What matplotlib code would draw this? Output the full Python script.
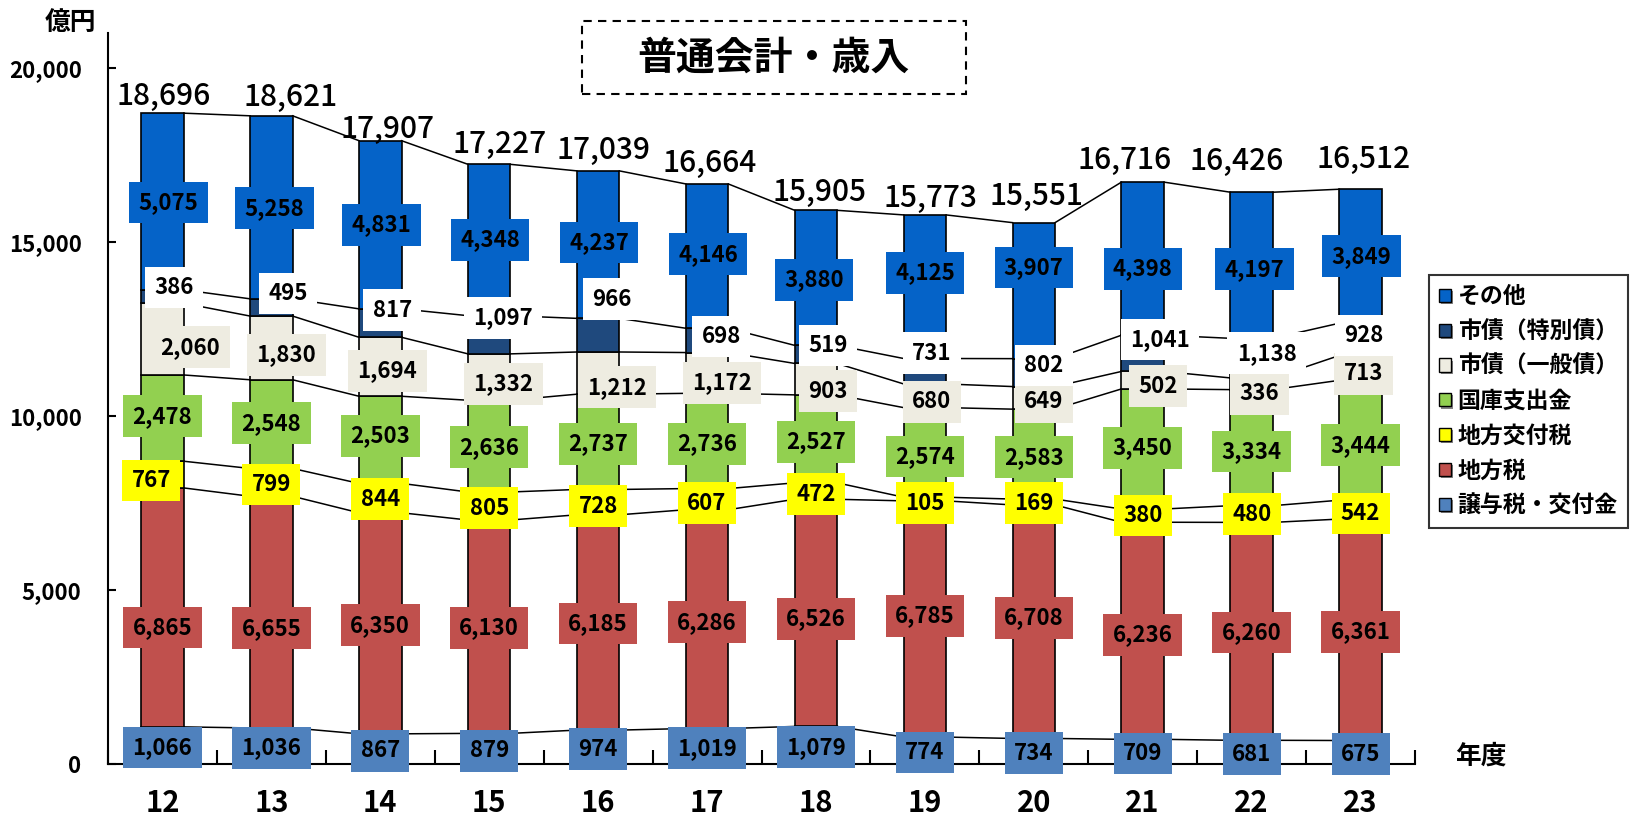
import matplotlib
matplotlib.use("Agg")
import matplotlib.pyplot as plt
import numpy as np
from matplotlib.patches import Patch, Rectangle
from matplotlib import patheffects as pe

# ---- data (億円) ----
years = ["12", "13", "14", "15", "16", "17", "18", "19", "20", "21", "22", "23"]
series_names = ["譲与税・交付金", "地方税", "地方交付税", "国庫支出金",
                "市債（一般債）", "市債（特別債）", "その他"]
jouyo = [1066, 1036, 867, 879, 974, 1019, 1079, 774, 734, 709, 681, 675]
chihozei = [6865, 6655, 6350, 6130, 6185, 6286, 6526, 6785, 6708, 6236, 6260, 6361]
kofuzei = [767, 799, 844, 805, 728, 607, 472, 105, 169, 380, 480, 542]
kokko = [2478, 2548, 2503, 2636, 2737, 2736, 2527, 2574, 2583, 3450, 3334, 3444]
ippan = [2060, 1830, 1694, 1332, 1212, 1172, 903, 680, 649, 502, 336, 713]
tokubetsu = [386, 495, 817, 1097, 966, 698, 519, 731, 802, 1041, 1138, 928]
sonota = [5075, 5258, 4831, 4348, 4237, 4146, 3880, 4125, 3907, 4398, 4197, 3849]
totals = [18696, 18621, 17907, 17227, 17039, 16664, 15905, 15773, 15551, 16716, 16426, 16512]

yticks = [0, 5000, 10000, 15000, 20000]

# ---- styling ----
colors = ["#4F81BD", "#C0504D", "#FFFF00", "#92D050", "#EEECE1", "#1F497D", "#0563C8"]
label_bg = ["#4F81BD", "#C0504D", "#FFFF00", "#92D050", "#EEECE1", "#FFFFFF", "#0563C8"]

# label nudges in pixels (dx right, dy down), one row per series
nudge_dx = [
    [0] * 12,
    [0] * 12,
    [-11, 0, 0, 0, 0, 0, 0, 0, 0, 0, 0, 0],
    [0] * 12,
    [28, 15, 7, 14, 19, 15, 12, 7, 10, 15, 8, 3],
    [12, 17, 12, 14, 14, 14, 12, 7, 10, 17, 15, 3],
    [6, 3, 1, 1, 1, 1, -2, 0, 0, 0, 3, 1],
]
nudge_dy = [
    [2] * 12,
    [20, 16, 2, 1, 1, 3, 6, -3, -4, 4, 1, 2],
    [6, 2, 1, 2, 4, 4, 3, 4, 1, 0, 0, 4],
    [-2, -1, -4, 1, 2, 3, 3, 4, 3, -1, 4, 5],
    [8, 7, 4, 7, 14, 10, 12, 6, 4, 6, 10, 6],
    [-9, -14, -13, -17, -36, -4, -9, -18, -7, -14, -5, -4],
    [1, 1, 0, 0, -2, -2, 2, -14, -23, 10, 4, 0],
]
# total labels: horizontal shift and baseline height above the bar top, in pixels
total_dx = [1, 19, 7, 10, 5, 3, 4, 6, 3, -18, -15, 3]
total_gap = [8, 10, 3, 11, 12, 12, 9, 8, 18, 13, 22, 21]

plt.rcParams['font.family'] = ['Noto Sans CJK JP', 'DejaVu Sans']

DPI = 100
W, H = 1642, 816
PT = 72 / DPI
fig = plt.figure(figsize=(W / DPI, H / DPI), dpi=DPI)
ymax = 21000
ax = fig.add_axes([108 / W, 52 / H, (1415 - 108) / W, (764 - 33) / H])

x = np.arange(len(years))
bw = 0.39
data = [jouyo, chihozei, kofuzei, kokko, ippan, tokubetsu, sonota]
bottom = np.zeros(len(years))
tops = []

for k, vals in enumerate(data):
    vals = np.array(vals, dtype=float)
    ax.bar(x, vals, bw, bottom=bottom, color=colors[k], edgecolor="black",
           linewidth=1.2, zorder=2)
    centers = bottom + vals / 2
    for i in range(len(years)):
        ax.annotate(f"{int(vals[i]):,}", (x[i], centers[i]),
                    xytext=(nudge_dx[k][i] * PT, -nudge_dy[k][i] * PT),
                    textcoords="offset points", ha="center", va="center",
                    fontsize=16, fontweight="bold",
                    color="black", zorder=6, annotation_clip=False,
                    bbox=dict(boxstyle="square,pad=0.42", fc=label_bg[k], ec="none"))
    bottom = bottom + vals
    tops.append(bottom.copy())

# series lines joining the top of each segment between neighbouring bars
for k, top in enumerate(tops):
    for i in range(len(years) - 1):
        ax.plot([x[i] + bw / 2, x[i + 1] - bw / 2], [top[i], top[i + 1]],
                color="black", lw=1.1, zorder=1)

for i, t in enumerate(totals):
    ax.annotate(f"{t:,}", (x[i], t), xytext=(total_dx[i] * PT, total_gap[i] * PT),
                textcoords="offset points", ha="center", va="baseline",
                fontsize=21.5, fontweight=500, color="black", zorder=6)

ax.set_xlim(-0.5, len(years) - 0.5)
ax.set_ylim(0, ymax)
for s in ["top", "right"]:
    ax.spines[s].set_visible(False)
for s in ["left", "bottom"]:
    ax.spines[s].set_linewidth(1.5)

ax.set_yticks(yticks)
ax.set_yticklabels([f"{v:,}" for v in yticks], fontsize=16, fontweight="bold")
ax.tick_params(axis="y", direction="in", length=6, width=1.5, pad=19)
ax.set_xticks(x)
ax.set_xticklabels(years, fontsize=21, fontweight="bold")
ax.set_xticks(np.arange(-0.5, len(years), 1), minor=True)
ax.tick_params(axis="x", which="major", length=0, pad=17)
ax.tick_params(axis="x", which="minor", direction="in", length=10, width=1.5)

fig.text(70 / W, 1 - 22 / H, "億円", ha="center", va="center", fontsize=18.5, fontweight="bold")
fig.text(1481 / W, 1 - 756 / H, "年度", ha="center", va="center", fontsize=18.5, fontweight="bold")

# title with dashed frame
fig.patches.append(Rectangle((582 / W, 1 - 94 / H), 384 / W, 73 / H, transform=fig.transFigure,
                             fill=False, ec="black", lw=1.5, ls=(0, (4, 3))))
fig.text(773 / W, 1 - 58 / H, "普通会計・歳入", ha="center", va="center",
         fontsize=28, fontweight="bold")

handles = [Patch(fc=colors[k], ec="black", lw=1.0) for k in range(len(series_names))][::-1]
leg = fig.legend(handles, series_names[::-1], loc="upper left",
                 bbox_to_anchor=(1429 / W, 1 - 275 / H), frameon=True, fancybox=False,
                 edgecolor="black", prop=dict(size=16.5, weight="bold"),
                 handlelength=0.5, handleheight=0.5, handletextpad=0.3,
                 labelspacing=0.52, borderpad=0.45, borderaxespad=0)
leg.get_frame().set_linewidth(1.5)
for h in leg.legend_handles:
    h.set_path_effects([pe.SimplePatchShadow(offset=(1.5, -1.5), shadow_rgbFace="#777777", alpha=0.9),
                        pe.Normal()])

fig.savefig("out.png", dpi=DPI)
